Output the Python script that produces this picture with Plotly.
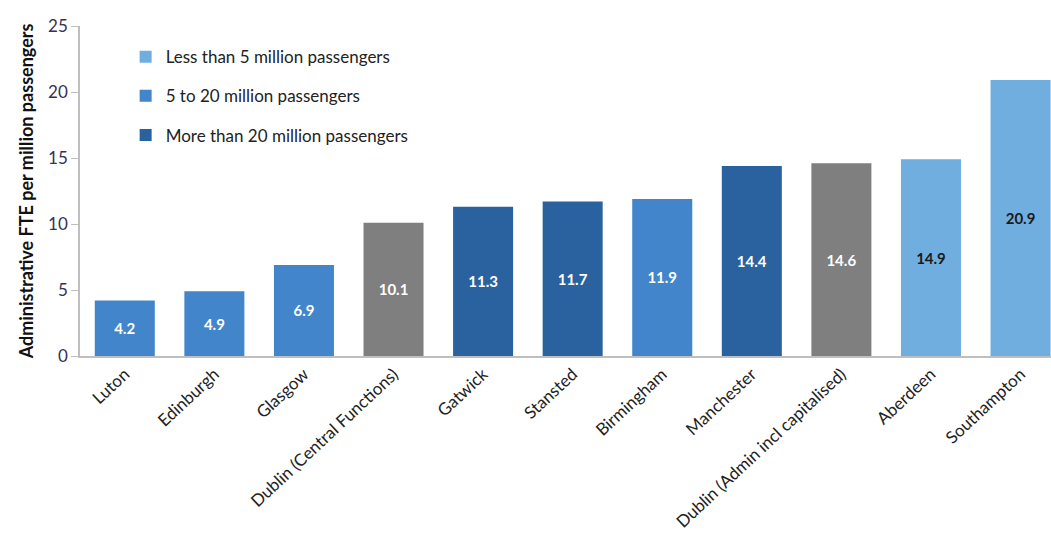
import plotly.graph_objects as go

categories = ["Luton", "Edinburgh", "Glasgow", "Dublin (Central Functions)", "Gatwick",
              "Stansted", "Birmingham", "Manchester", "Dublin (Admin incl capitalised)",
              "Aberdeen", "Southampton"]
values = [4.2, 4.9, 6.9, 10.1, 11.3, 11.7, 11.9, 14.4, 14.6, 14.9, 20.9]
groups = ["mid", "mid", "mid", "dublin", "large", "large", "mid", "large", "dublin", "small", "small"]

series = [
    ("small", "Less than 5 million passengers", "#70AEDF", "#1a1a1a", True),
    ("mid", "5 to 20 million passengers", "#4285CB", "white", True),
    ("large", "More than 20 million passengers", "#2A62A0", "white", True),
    ("dublin", "Dublin", "#7F7F7F", "white", False),
]

fig = go.Figure()
for key, name, color, tcolor, show in series:
    xs = [c for c, g in zip(categories, groups) if g == key]
    ys = [v for v, g in zip(values, groups) if g == key]
    fig.add_trace(go.Bar(
        x=xs, y=ys, name=name, marker_color=color, marker_line_width=0,
        text=[f"{v:.1f}" for v in ys], textposition="inside", insidetextanchor="middle",
        textangle=0, constraintext="none",
        textfont=dict(color=tcolor, size=15, family="Lato", weight="bold"),
        showlegend=show, legendgroup=key,
    ))

fig.update_layout(
    width=1051, height=536,
    margin=dict(l=80, r=0, t=26, b=180),
    plot_bgcolor="white", paper_bgcolor="white",
    barmode="overlay", bargap=0.33,
    font=dict(family="Lato", size=13, color="#222222"),
    legend=dict(x=0.047, y=0.96, xanchor="left", yanchor="top",
                font=dict(size=17, color="#222222"), tracegroupgap=14,
                itemwidth=30, bgcolor="rgba(0,0,0,0)"),
    xaxis=dict(categoryorder="array", categoryarray=categories, range=[-0.5, 10.34],
               tickangle=-43, showline=True, linecolor="#BFBFBF", linewidth=1.5,
               ticks="", showgrid=False, tickfont=dict(size=17, color="#222222")),
    yaxis=dict(range=[0, 25], dtick=5, showgrid=False, zeroline=False,
               showline=True, linecolor="#BFBFBF", linewidth=1.5,
               ticks="outside", ticklen=7, tickcolor="#BFBFBF",
               tickfont=dict(size=17, color="#3a2f55"),
               title=dict(text="<b>Administrative FTE per million passengers</b>",
                          font=dict(size=18, color="#111111"), standoff=10)),
)

fig.write_html("out.html")
